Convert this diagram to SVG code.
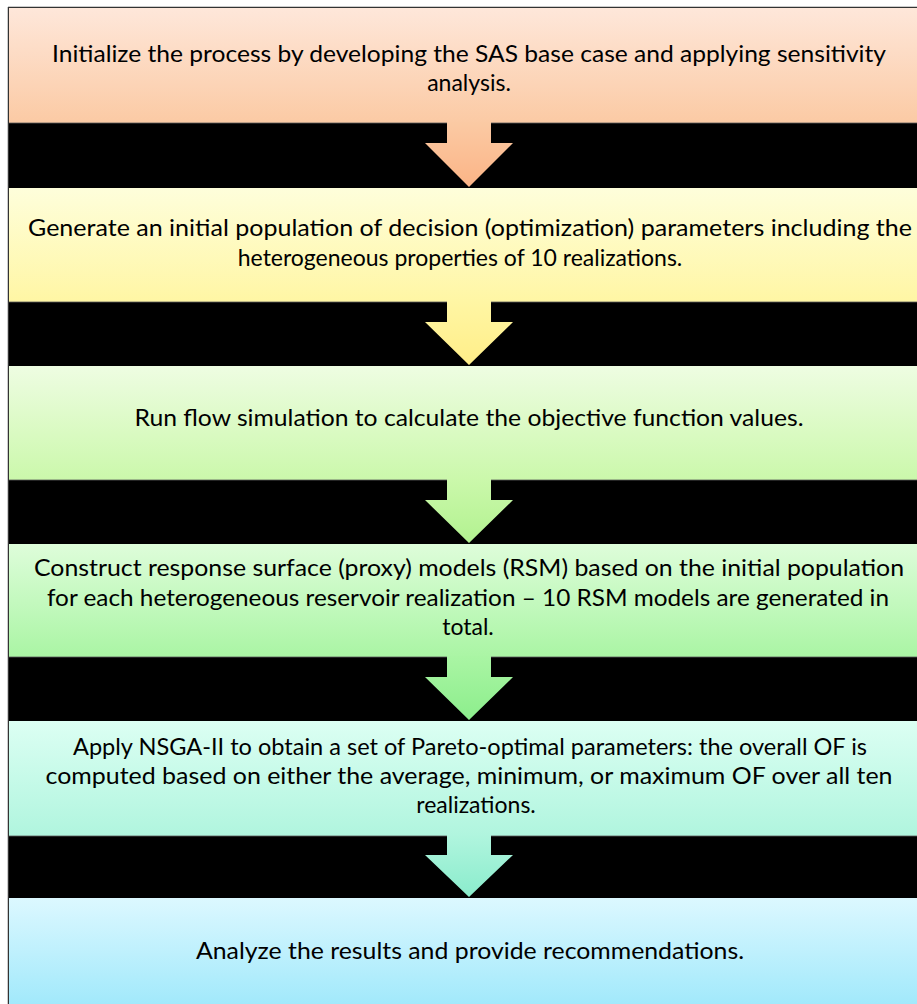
<svg xmlns="http://www.w3.org/2000/svg" width="917" height="1004" viewBox="0 0 917 1004">
<style>
.t{font-family:Lato,"Open Sans","Liberation Sans",sans-serif;font-size:23px;fill:#000;text-anchor:middle}
.band{fill:#000}
.edge{stroke:#5a5a5a;stroke-width:1.2;opacity:0.8}
</style>
<defs>
<linearGradient id="g1" x1="0" y1="0" x2="0" y2="1"><stop offset="0" stop-color="#fee7da"/><stop offset="1" stop-color="#fbcaa4"/></linearGradient>
<linearGradient id="g2" x1="0" y1="0" x2="0" y2="1"><stop offset="0" stop-color="#fefedb"/><stop offset="1" stop-color="#fff6a4"/></linearGradient>
<linearGradient id="g3" x1="0" y1="0" x2="0" y2="1"><stop offset="0" stop-color="#eefde2"/><stop offset="1" stop-color="#cbf8ab"/></linearGradient>
<linearGradient id="g4" x1="0" y1="0" x2="0" y2="1"><stop offset="0" stop-color="#defdda"/><stop offset="1" stop-color="#aaf5a4"/></linearGradient>
<linearGradient id="g5" x1="0" y1="0" x2="0" y2="1"><stop offset="0" stop-color="#dcfff3"/><stop offset="1" stop-color="#b0f5de"/></linearGradient>
<linearGradient id="g6" x1="0" y1="0" x2="0" y2="1"><stop offset="0" stop-color="#dcf8ff"/><stop offset="1" stop-color="#a2e9fb"/></linearGradient>
<linearGradient id="a1" x1="0" y1="0" x2="0" y2="1"><stop offset="0" stop-color="#fbcaa4"/><stop offset="1" stop-color="#fbb486"/></linearGradient>
<linearGradient id="a2" x1="0" y1="0" x2="0" y2="1"><stop offset="0" stop-color="#fff6a4"/><stop offset="1" stop-color="#ffee88"/></linearGradient>
<linearGradient id="a3" x1="0" y1="0" x2="0" y2="1"><stop offset="0" stop-color="#cbf8ab"/><stop offset="1" stop-color="#b2f290"/></linearGradient>
<linearGradient id="a4" x1="0" y1="0" x2="0" y2="1"><stop offset="0" stop-color="#aaf5a4"/><stop offset="1" stop-color="#8cee8c"/></linearGradient>
<linearGradient id="a5" x1="0" y1="0" x2="0" y2="1"><stop offset="0" stop-color="#b0f5de"/><stop offset="1" stop-color="#8aeccc"/></linearGradient>
</defs>
<rect x="0" y="0" width="917" height="1004" fill="#fff"/>
<g id="frame">
<line x1="8" y1="7.5" x2="917" y2="7.5" stroke="#333" stroke-width="1.5"/>
<line x1="8.5" y1="7" x2="8.5" y2="1004" stroke="#333" stroke-width="1.5"/>
</g>
<g id="bands">
<rect class="band" x="9" y="123" width="908" height="65"/>
<rect class="band" x="9" y="302" width="908" height="64"/>
<rect class="band" x="9" y="480" width="908" height="64"/>
<rect class="band" x="9" y="657" width="908" height="64"/>
<rect class="band" x="9" y="836" width="908" height="62"/>
</g>
<g id="node1">
<rect x="9" y="8" width="908" height="115" fill="url(#g1)"/>
<line class="edge" x1="9" y1="123" x2="917" y2="123"/>
<text class="t" x="469" y="62" textLength="834" lengthAdjust="spacingAndGlyphs">Initialize the process by developing the SAS base case and applying sensitivity</text>
<text class="t" x="469" y="91">analysis.</text>
</g>
<g id="node2">
<rect x="9" y="188" width="908" height="114" fill="url(#g2)"/>
<line class="edge" x1="9" y1="302" x2="917" y2="302"/>
<text class="t" x="470" y="236" textLength="884" lengthAdjust="spacingAndGlyphs">Generate an initial population of decision (optimization) parameters including the</text>
<text class="t" x="460" y="266">heterogeneous properties of 10 realizations.</text>
</g>
<g id="node3">
<rect x="9" y="366" width="908" height="114" fill="url(#g3)"/>
<line class="edge" x1="9" y1="480" x2="917" y2="480"/>
<text class="t" x="469" y="426" textLength="669" lengthAdjust="spacingAndGlyphs">Run flow simulation to calculate the objective function values.</text>
</g>
<g id="node4">
<rect x="9" y="544" width="908" height="113" fill="url(#g4)"/>
<line class="edge" x1="9" y1="657" x2="917" y2="657"/>
<text class="t" x="469" y="576" textLength="870" lengthAdjust="spacingAndGlyphs">Construct response surface (proxy) models (RSM) based on the initial population</text>
<text class="t" x="468" y="606" textLength="842" lengthAdjust="spacingAndGlyphs">for each heterogeneous reservoir realization – 10 RSM models are generated in</text>
<text class="t" x="468" y="635">total.</text>
</g>
<g id="node5">
<rect x="9" y="721" width="908" height="115" fill="url(#g5)"/>
<line class="edge" x1="9" y1="836" x2="917" y2="836"/>
<text class="t" x="470" y="755" textLength="794" lengthAdjust="spacingAndGlyphs">Apply NSGA-II to obtain a set of Pareto-optimal parameters: the overall OF is</text>
<text class="t" x="469" y="784" textLength="847" lengthAdjust="spacingAndGlyphs">computed based on either the average, minimum, or maximum OF over all ten</text>
<text class="t" x="476" y="813">realizations.</text>
</g>
<g id="node6">
<rect x="9" y="898" width="908" height="106" fill="url(#g6)"/>
<text class="t" x="470" y="959" textLength="548" lengthAdjust="spacingAndGlyphs">Analyze the results and provide recommendations.</text>
</g>
<g id="connectors">
<path d="M447,122 H491 V143 H513 L469,187 L425,143 H447 Z" fill="url(#a1)"/>
<path d="M447,301 H491 V322 H513 L469,365 L425,322 H447 Z" fill="url(#a2)"/>
<path d="M447,479 H491 V500 H513 L469,543 L425,500 H447 Z" fill="url(#a3)"/>
<path d="M447,656 H491 V677 H513 L469,720 L425,677 H447 Z" fill="url(#a4)"/>
<path d="M447,835 H491 V855 H513 L469,897 L425,855 H447 Z" fill="url(#a5)"/>
</g>
</svg>
